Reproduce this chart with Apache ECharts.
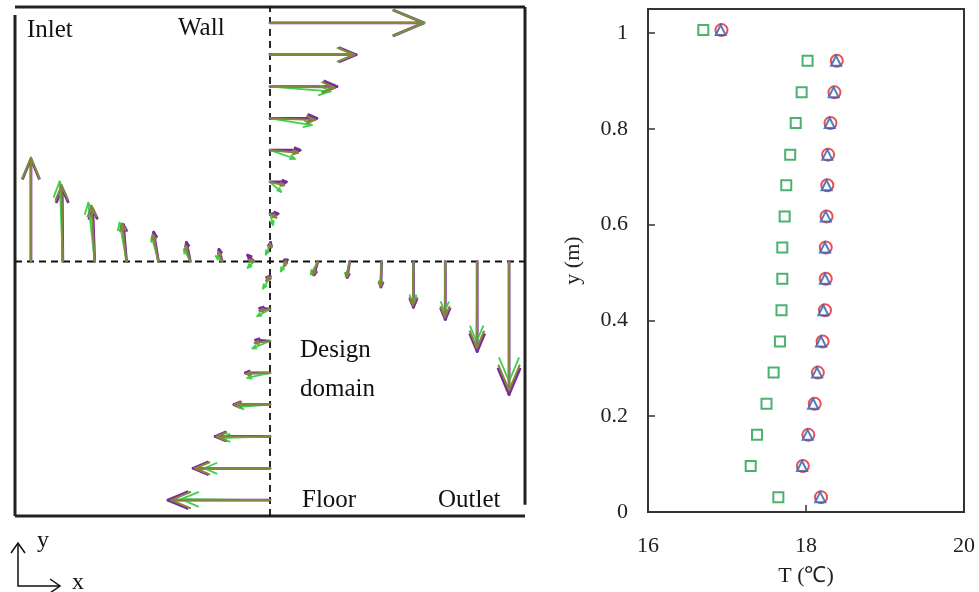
<!DOCTYPE html>
<html><head><meta charset="utf-8">
<script src="https://cdn.jsdelivr.net/npm/echarts@6/dist/echarts.min.js"></script>
<style>html,body{margin:0;padding:0;background:#fff}#c{width:979px;height:592px}</style>
</head><body><div id="c"></div>
<script>
// ---------- Left panel: velocity vectors on the two centre lines (cell units, domain 0..16) ----------
const vertY = [15.5,14.5,13.5,12.5,11.5,10.5,9.5,8.5,7.5,6.5,5.5,4.5,3.5,2.5,1.5,0.5]; // bases on x = 8
const horzX = [0.5,1.5,2.5,3.5,4.5,5.5,6.5,7.5,8.5,9.5,10.5,11.5,12.5,13.5,14.5,15.5]; // bases on y = 8

// purple vectors
const purpleUvert = [4.83,2.70,2.10,1.47,0.94,0.51,0.25,0.02,-0.10,-0.32,-0.45,-0.77,-1.13,-1.72,-2.41,-3.20];
const purpleVvert = [0,0,0,0,0,0,0,0.10,0,0.03,0.03,0,0,0,0,0];
const purpleUhorz = [0,-0.02,-0.06,-0.10,-0.15,-0.12,-0.10,-0.20,0,-0.12,-0.08,-0.02,0,0,0,0];
const purpleVhorz = [3.22,2.30,1.65,1.16,0.92,0.60,0.38,0.20,-0.05,-0.42,-0.50,-0.80,-1.44,-1.82,-2.83,-4.18];
// green vectors
const greenUvert = [4.83,2.62,1.90,1.31,0.78,0.35,0.10,-0.13,-0.22,-0.40,-0.55,-0.71,-1.02,-1.56,-2.07,-2.79];
const greenVvert = [0,0,-0.15,-0.21,-0.27,-0.31,-0.35,-0.28,-0.35,-0.22,-0.23,-0.16,-0.08,-0.05,0,0.03];
const greenUhorz = [0,-0.10,-0.20,-0.22,-0.21,-0.20,-0.20,-0.20,-0.16,-0.22,-0.12,-0.04,-0.02,-0.02,-0.02,0];
const greenVhorz = [3.27,2.52,1.85,1.22,0.76,0.38,0.17,-0.20,-0.31,-0.40,-0.48,-0.75,-1.30,-1.57,-2.52,-3.77];
// olive vectors
const oliveUvert = [4.80,2.65,2.02,1.42,0.88,0.45,0.20,0.0,-0.12,-0.33,-0.48,-0.74,-1.10,-1.68,-2.35,-3.10];
const oliveVvert = [0,0,-0.03,-0.05,-0.08,-0.10,-0.12,0.05,-0.10,-0.05,-0.06,-0.03,0,0,0,0];
const oliveUhorz = [0,-0.04,-0.10,-0.14,-0.17,-0.15,-0.12,-0.18,-0.05,-0.16,-0.10,-0.03,-0.01,-0.01,-0.01,0];
const oliveVhorz = [3.25,2.40,1.75,1.19,0.85,0.50,0.30,0.05,-0.15,-0.42,-0.49,-0.78,-1.38,-1.75,-2.72,-4.05];

// frame of the design domain and centre lines
const frameSegs = [[0,16,16,16],[0,15.75,0,0],[16,16,16,0.35],[0,0,16,0]];
const centreLines = [[8,0,8,16],[0,8,16,8]];

// ---------- Right panel: temperature profile ----------
const yPos   = [1.006,0.942,0.876,0.812,0.746,0.682,0.617,0.552,0.487,0.421,0.356,0.291,0.226,0.161,0.096,0.031];
const tGreen = [16.70,18.02,17.945,17.87,17.80,17.75,17.73,17.70,17.70,17.69,17.67,17.59,17.50,17.38,17.30,17.65];
const tBlue  = [16.92,18.38,18.35,18.30,18.27,18.26,18.25,18.24,18.24,18.22,18.19,18.14,18.09,18.02,17.95,18.18];
const tRed   = [16.93,18.39,18.36,18.31,18.28,18.27,18.26,18.25,18.25,18.24,18.21,18.15,18.11,18.03,17.96,18.19];
const yTicks = [0,0.2,0.4,0.6,0.8,1];
const xTicks = [16,18,20];

function vecData(U1,V1,U2,V2){
  const d=[];
  vertY.forEach((y,i)=>d.push([8,y,U1[i],V1[i]]));
  horzX.forEach((x,i)=>d.push([x,8,U2[i],V2[i]]));
  return d;
}
function arrowRender(color,width){
  return function(params,api){
    const b=api.coord([api.value(0),api.value(1)]);
    const t=api.coord([api.value(0)+api.value(2),api.value(1)+api.value(3)]);
    const dx=t[0]-b[0], dy=t[1]-b[1], L=Math.hypot(dx,dy);
    if(L<0.5) return null;
    const ux=dx/L, uy=dy/L;
    const hl=Math.max(0.2*L,4.5), hw=0.42*hl;
    const bx=t[0]-ux*hl, by=t[1]-uy*hl;
    return {type:'group',children:[
      {type:'line',shape:{x1:b[0],y1:b[1],x2:t[0],y2:t[1]},style:{stroke:color,lineWidth:width,lineCap:'round'}},
      {type:'polyline',shape:{points:[[bx-uy*hw,by+ux*hw],t,[bx+uy*hw,by-ux*hw]]},style:{stroke:color,lineWidth:width,fill:null,lineJoin:'round'}}
    ]};
  };
}
function segRender(color,width,dash){
  return function(params,api){
    const a=api.coord([api.value(0),api.value(1)]);
    const b=api.coord([api.value(2),api.value(3)]);
    return {type:'line',shape:{x1:a[0],y1:a[1],x2:b[0],y2:b[1]},style:{stroke:color,lineWidth:width,lineDash:dash}};
  };
}
const serif="'Liberation Serif','Times New Roman',serif";
function txt(s,x,y,size){
  return {type:'text',x:x,y:y,style:{text:s,font:(size||25)+'px '+serif,fill:'#111',textVerticalAlign:'middle',verticalAlign:'middle'}};
}

const chart=echarts.init(document.getElementById('c'),null,{renderer:'canvas'});
chart.setOption({
  animation:false,
  backgroundColor:'#fff',
  grid:[
    {left:15,top:7,width:510,height:509,show:false},
    {left:648,top:9,width:316,height:504,show:true,borderColor:'#333',borderWidth:2,backgroundColor:'transparent'}
  ],
  xAxis:[
    {gridIndex:0,type:'value',min:0,max:16,show:false},
    {gridIndex:1,type:'value',min:16,max:20,interval:2,
      axisLine:{lineStyle:{color:'#333',width:2}},
      axisTick:{inside:true,length:7,lineStyle:{color:'#333',width:1.5}},
      axisLabel:{margin:23,fontSize:22,fontFamily:serif,color:'#222',formatter:v=>xTicks.includes(v)?String(v):''},
      splitLine:{show:false},
      name:'T (℃)',nameLocation:'middle',nameGap:53,nameTextStyle:{fontSize:22,fontFamily:serif,color:'#222'}}
  ],
  yAxis:[
    {gridIndex:0,type:'value',min:0,max:16,show:false},
    {gridIndex:1,type:'value',min:0,max:1.05,interval:0.2,
      axisLine:{lineStyle:{color:'#333',width:2}},
      axisTick:{inside:true,length:7,lineStyle:{color:'#333',width:1.5}},
      axisLabel:{margin:20,fontSize:22,fontFamily:serif,color:'#222',showMaxLabel:false,
        formatter:v=>{const r=Math.round(v*10)/10;return yTicks.includes(r)?String(r):'';}},
      splitLine:{show:false},
      name:'y (m)',nameLocation:'middle',nameGap:64,nameTextStyle:{fontSize:22,fontFamily:serif,color:'#222'}}
  ],
  graphic:[
    txt('Inlet',27,30), txt('Wall',178,28), txt('Design',300,350), txt('domain',300,389),
    txt('Floor',302,500), txt('Outlet',438,500), txt('y',37,541,24), txt('x',72,583,24),
    {type:'polyline',shape:{points:[[18,543],[18,586],[60,586]]},style:{stroke:'#111',lineWidth:1.5,fill:null}},
    {type:'polyline',shape:{points:[[11,553],[18,543],[25,553]]},style:{stroke:'#111',lineWidth:1.5,fill:null}},
    {type:'polyline',shape:{points:[[50,579],[60,586],[50,593]]},style:{stroke:'#111',lineWidth:1.5,fill:null}}
  ],
  series:[
    {type:'custom',xAxisIndex:0,yAxisIndex:0,renderItem:segRender('#222',3,null),data:frameSegs,encode:{x:[0,2],y:[1,3]},silent:true},
    {type:'custom',xAxisIndex:0,yAxisIndex:0,renderItem:segRender('#111',1.8,[7,5]),data:centreLines,encode:{x:[0,2],y:[1,3]},silent:true},
    {type:'custom',name:'purple',xAxisIndex:0,yAxisIndex:0,renderItem:arrowRender('#7a2a9c',2.8),
      data:vecData(purpleUvert,purpleVvert,purpleUhorz,purpleVhorz),encode:{x:0,y:1},silent:true},
    {type:'custom',name:'green',xAxisIndex:0,yAxisIndex:0,renderItem:arrowRender('#3fcf4f',1.8),
      data:vecData(greenUvert,greenVvert,greenUhorz,greenVhorz),encode:{x:0,y:1},silent:true},
    {type:'custom',name:'olive',xAxisIndex:0,yAxisIndex:0,renderItem:arrowRender('#86863a',2),
      data:vecData(oliveUvert,oliveVvert,oliveUhorz,oliveVhorz),encode:{x:0,y:1},silent:true},
    {type:'scatter',xAxisIndex:1,yAxisIndex:1,symbol:'emptyRect',symbolSize:10,
      itemStyle:{color:'#1e9e4a',borderColor:'#1e9e4a',borderWidth:2.5},
      data:tGreen.map((t,i)=>[t,yPos[i]])},
    {type:'scatter',xAxisIndex:1,yAxisIndex:1,symbol:'emptyCircle',symbolSize:12,
      itemStyle:{color:'#e2262c',borderColor:'#e2262c',borderWidth:2.5},
      data:tRed.map((t,i)=>[t,yPos[i]])},
    {type:'scatter',xAxisIndex:1,yAxisIndex:1,symbol:'emptyTriangle',symbolSize:10,
      itemStyle:{color:'#2a5db0',borderColor:'#2a5db0',borderWidth:2.8},
      data:tBlue.map((t,i)=>[t,yPos[i]])}
  ]
});
</script></body></html>
